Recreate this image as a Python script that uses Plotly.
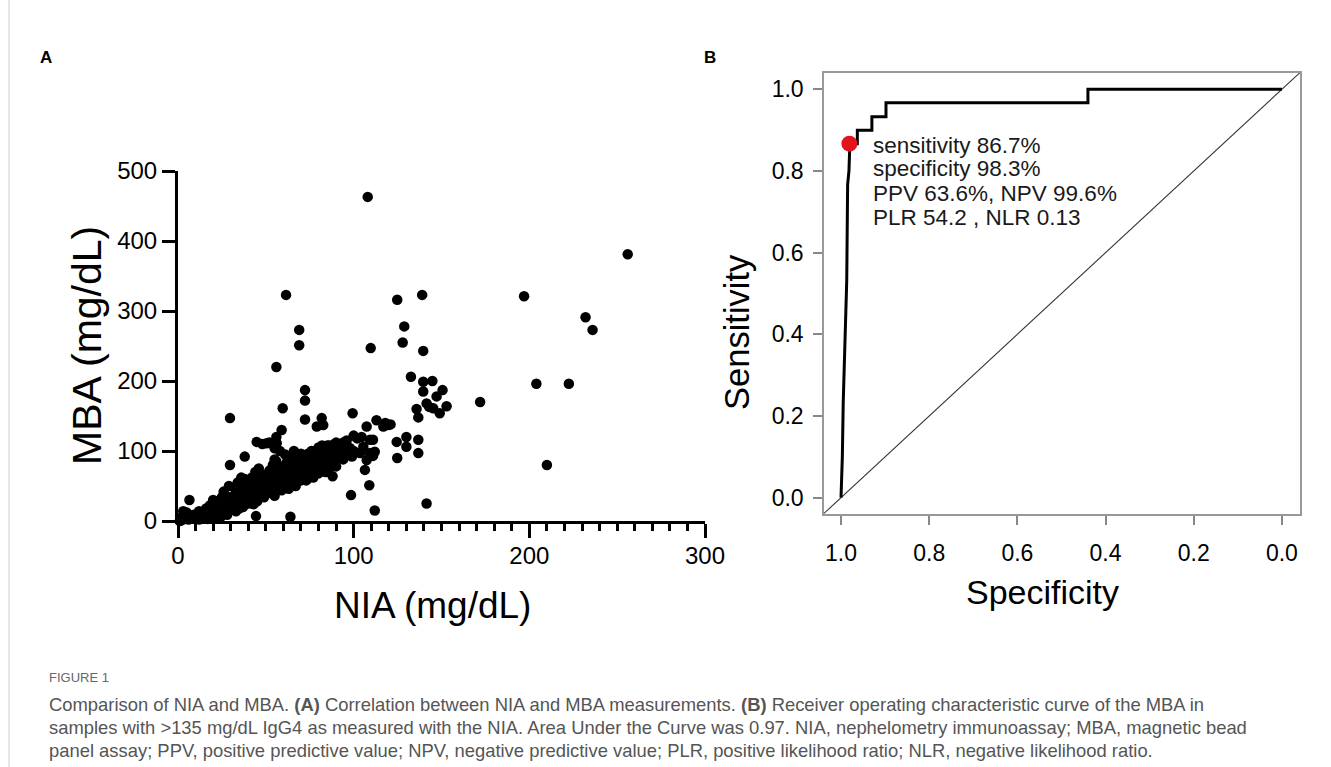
import plotly.graph_objects as go

W, H = 1331, 767

# ---------------- Panel A data (NIA vs MBA, mg/dL) ----------------
nia_outliers = [108, 61.5, 139, 124.8, 197, 256, 232, 236, 204, 222.5, 210, 172, 69, 69, 56, 29.6,
                59.6, 72.3, 72.3, 72.3, 99.4, 109.7, 128.8, 127.9, 139.6, 132.6, 139.6, 144.8, 139.6,
                150.6, 147.2, 141.5, 152.9, 149, 145.3, 135.8, 136.8, 143, 124.5, 130, 130, 136.8,
                136.8, 124.8, 141.5, 112, 108.9, 98.5, 44.4, 64, 6.5, 29.6, 38, 44.8, 50.5, 56.2, 59,
                56, 79, 81.8, 82.7, 104.5, 107.4, 113, 116.9, 119.7, 111, 105.5, 109.3, 107.4, 112,
                103.6, 111, 106.4, 109.3, 100, 102, 118, 121]
mba_outliers = [463, 323, 323, 316, 321, 381, 291, 273, 196, 196, 80, 170, 273, 251, 220, 147,
                161, 187, 172, 145, 154, 247, 278, 255, 243, 206, 199, 200, 185,
                187, 178, 168, 164, 154, 161, 160, 148, 163, 113, 120, 106, 116,
                97, 90, 25, 15, 51, 37, 7, 6, 30, 80, 92, 113, 111, 111, 130,
                120, 135, 147, 137, 120, 135, 144, 135, 137, 116, 106, 97, 87, 99,
                97, 93, 73, 116, 122, 118, 140, 138]

nia_band = [1, 2, 3, 4, 5, 6, 7, 8, 9, 10, 3, 2,
            11, 12, 13, 14, 15, 16, 17, 18, 19, 20, 12, 15, 18, 16, 20, 19,
            21, 22, 23, 24, 25, 26, 27, 28, 29, 30, 22, 25, 27, 24, 28, 30, 26, 29,
            31, 32, 33, 34, 35, 36, 37, 38, 39, 40, 32, 34, 36, 38, 33, 35, 37, 39, 40, 31,
            41, 42, 43, 44, 45, 46, 47, 48, 49, 50, 42, 44, 46, 48, 43, 45, 47, 49, 50, 41, 46,
            51, 52, 53, 54, 55, 56, 57, 58, 59, 60, 52, 54, 56, 58, 53, 55, 57, 59, 60, 51, 55,
            61, 62, 63, 64, 65, 66, 67, 68, 69, 70, 62, 64, 66, 68, 63, 65, 67, 69, 70, 61, 66, 70,
            71, 72, 73, 74, 75, 76, 77, 78, 79, 80, 72, 74, 76, 78, 73, 75, 77, 79, 80, 71, 80, 82,
            81, 82, 83, 84, 85, 86, 87, 88, 89, 90, 91, 92, 93, 94, 95, 96, 97, 98, 99, 100,
            84, 86, 88, 90, 92, 94, 96, 85, 89, 58, 55, 48, 52,
            25, 27, 29, 31, 33, 35, 37, 39, 41, 43, 45, 47, 49, 51, 53, 55, 57, 59,
            61, 63, 65, 67, 69, 71, 73, 75, 77, 79, 81, 83, 85, 87, 89, 91, 93,
            34, 38, 42, 46, 50, 54, 58, 62, 66, 70, 74, 78, 82, 86, 90,
            20, 23, 26, 29, 32, 35, 38, 41, 44, 47, 50, 53, 56, 59, 62, 65, 68, 71, 74, 77]
mba_band = [0, 1, 8, 3, 12, 2, 6, 4, 9, 3, 14, 5,
            7, 2, 10, 5, 12, 8, 3, 14, 10, 6, 14, 4, 22, 18, 30, 16,
            12, 18, 8, 22, 15, 26, 11, 20, 30, 18, 28, 34, 36, 5, 9, 25, 42, 50,
            22, 30, 14, 38, 26, 34, 20, 45, 30, 38, 48, 55, 62, 60, 40, 18, 50, 52, 25, 35,
            30, 42, 36, 50, 28, 46, 38, 55, 44, 52, 62, 70, 60, 66, 24, 58, 48, 34, 40, 50, 75,
            45, 58, 40, 62, 50, 68, 47, 60, 55, 70, 72, 80, 85, 76, 52, 36, 64, 44, 58, 66, 88,
            52, 64, 58, 72, 55, 68, 62, 75, 60, 70, 80, 90, 82, 88, 46, 78, 50, 85, 58, 95, 100, 96,
            62, 72, 66, 80, 64, 76, 70, 85, 74, 80, 90, 95, 100, 92, 58, 86, 62, 98, 68, 82, 105, 108,
            76, 88, 80, 94, 85, 98, 90, 102, 86, 95, 105, 92, 100, 88, 98, 108, 96, 104, 92, 100,
            70, 75, 64, 78, 110, 112, 115, 108, 110, 100, 104, 110, 112,
            24, 28, 26, 32, 30, 36, 34, 40, 38, 44, 42, 48, 46, 52, 50, 56, 54, 60,
            58, 64, 62, 68, 66, 74, 72, 78, 76, 82, 80, 86, 84, 90, 88, 94, 96,
            42, 48, 54, 60, 66, 72, 78, 84, 88, 92, 96, 100, 104, 108, 112,
            20, 24, 28, 32, 36, 40, 44, 48, 52, 56, 60, 64, 68, 72, 76, 80, 84, 88, 92, 96]

nia = nia_outliers + nia_band
mba = mba_outliers + mba_band

# ---------------- Panel B data (ROC) ----------------
roc_spec = [1.0, 0.997, 0.995, 0.993, 0.990, 0.987, 0.985, 0.982, 0.980, 0.963, 0.963,
            0.930, 0.930, 0.898, 0.898, 0.44, 0.44, 0.0]
roc_sens = [0.0, 0.10, 0.233, 0.30, 0.433, 0.533, 0.767, 0.80, 0.867, 0.867, 0.90,
            0.90, 0.933, 0.933, 0.967, 0.967, 1.0, 1.0]
cut_spec = [0.981]
cut_sens = [0.867]
diag_spec = [1.0386, -0.041]
diag_sens = [-0.0386, 1.041]
stats_lines = ["sensitivity 86.7%", "specificity 98.3%", "PPV 63.6%, NPV 99.6%", "PLR 54.2 , NLR 0.13"]

a_xticks = [0, 100, 200, 300]
a_yticks = [0, 100, 200, 300, 400, 500]
b_ticks = [0.0, 0.2, 0.4, 0.6, 0.8, 1.0]
b_ticklabels = ["0.0", "0.2", "0.4", "0.6", "0.8", "1.0"]

caption_title = "FIGURE 1"
caption_lines = [
    "Comparison of NIA and MBA. <b>(A)</b> Correlation between NIA and MBA measurements. <b>(B)</b> Receiver operating characteristic curve of the MBA in",
    "samples with &gt;135 mg/dL IgG4 as measured with the NIA. Area Under the Curve was 0.97. NIA, nephelometry immunoassay; MBA, magnetic bead",
    "panel assay; PPV, positive predictive value; NPV, negative predictive value; PLR, positive likelihood ratio; NLR, negative likelihood ratio.",
]

FONT = "Liberation Sans, Arial, sans-serif"


def px(x):
    return x / W


def py(y):
    return 1 - y / H


fig = go.Figure()

fig.add_trace(go.Scatter(
    x=nia, y=mba, mode="markers", xaxis="x", yaxis="y",
    marker=dict(size=10.5, color="black", line=dict(width=0)),
    cliponaxis=False, showlegend=False, hoverinfo="skip"))

fig.add_trace(go.Scatter(
    x=diag_spec, y=diag_sens, mode="lines", xaxis="x2", yaxis="y2",
    line=dict(color="#333333", width=1.1), showlegend=False, hoverinfo="skip"))
fig.add_trace(go.Scatter(
    x=roc_spec, y=roc_sens, mode="lines", xaxis="x2", yaxis="y2",
    line=dict(color="black", width=3), showlegend=False, hoverinfo="skip"))
fig.add_trace(go.Scatter(
    x=cut_spec, y=cut_sens, mode="markers", xaxis="x2", yaxis="y2",
    marker=dict(size=16, color="#e3131d"), cliponaxis=False, showlegend=False, hoverinfo="skip"))


def note(text, x, y, size, angle=0, xanchor="center", color="black"):
    return dict(text=text, x=px(x), y=py(y), xref="paper", yref="paper",
                xanchor=xanchor, yanchor="middle", textangle=angle, showarrow=False,
                font=dict(family=FONT, size=size, color=color))


annotations = [
    note("<b>A</b>", 46, 57, 17),
    note("<b>B</b>", 710, 57, 17),
    note("NIA (mg/dL)", 432, 605, 37),
    note("MBA (mg/dL)", 87, 346, 41, angle=-90),
    note("Specificity", 1042, 592, 34),
    note("Sensitivity", 737, 332, 34.5, angle=-90),
]
for line, yy in zip(stats_lines, [145, 169, 193, 217]):
    annotations.append(note(line, 871, yy, 22.5, xanchor="left", color="#1a1a1a"))
annotations.append(note(caption_title, 47, 677, 13, xanchor="left", color="#666666"))
for line, yy in zip(caption_lines, [704, 727, 750]):
    annotations.append(note(line, 47, yy, 18.4, xanchor="left", color="#555555"))

shapes = [dict(type="line", xref="paper", yref="paper", x0=px(9), x1=px(9), y0=0, y1=1,
               line=dict(color="#cccccc", width=1))]

fig.update_layout(
    template="none",
    width=W, height=H,
    margin=dict(l=0, r=0, t=0, b=0, pad=0, autoexpand=False),
    paper_bgcolor="white", plot_bgcolor="white",
    font=dict(family=FONT, color="black"),
    showlegend=False,
    annotations=annotations,
    shapes=shapes,
    xaxis=dict(domain=[px(178), px(705)], range=[0, 300], anchor="y", automargin=False,
               tickvals=a_xticks, ticks="outside", ticklen=14, tickwidth=3, tickcolor="black",
               minor=dict(dtick=10, ticks="outside", ticklen=7, tickwidth=2.5, tickcolor="black",
                          showgrid=False),
               showline=True, linewidth=3, linecolor="black", showgrid=False, zeroline=False,
               tickfont=dict(family=FONT, size=24, color="black"), ticklabelstandoff=-3),
    yaxis=dict(domain=[py(521), py(171)], range=[0, 500], anchor="x", automargin=False,
               tickvals=a_yticks, ticks="outside", ticklen=13, tickwidth=3, tickcolor="black",
               showline=True, linewidth=3, linecolor="black", showgrid=False, zeroline=False,
               tickfont=dict(family=FONT, size=24, color="black"), ticklabelstandoff=0),
    xaxis2=dict(domain=[px(824), px(1300)], range=[1.0386, -0.041], anchor="y2", automargin=False,
                tickvals=b_ticks, ticktext=b_ticklabels, ticks="outside", ticklen=9, tickwidth=1.5,
                tickcolor="#888888", showline=True, mirror=True, linewidth=1.5, linecolor="#999999",
                showgrid=False, zeroline=False,
                tickfont=dict(family=FONT, size=23, color="black"), ticklabelstandoff=9),
    yaxis2=dict(domain=[py(514), py(73)], range=[-0.04, 1.04], anchor="x2", automargin=False,
                tickvals=b_ticks, ticktext=b_ticklabels, ticks="outside", ticklen=9, tickwidth=1.5,
                tickcolor="#888888", showline=True, mirror=True, linewidth=1.5, linecolor="#999999",
                showgrid=False, zeroline=False,
                tickfont=dict(family=FONT, size=23, color="black"), ticklabelstandoff=5),
)

fig.write_html("out.html")
